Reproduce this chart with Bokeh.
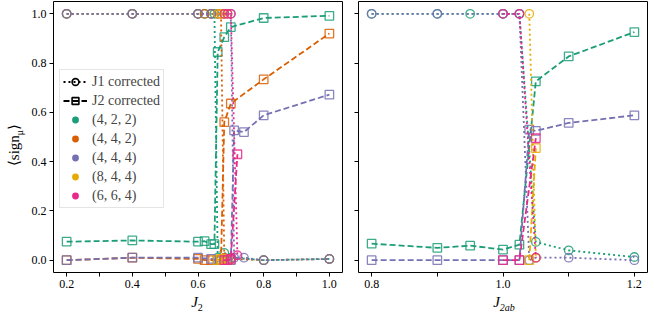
from bokeh.plotting import figure
from bokeh.layouts import row, column
from bokeh.models import Range1d, Legend, LegendItem, FixedTicker, Div
from bokeh.embed import file_html
from bokeh.resources import INLINE

GREEN = "#1b9e77"; ORANGE = "#d95f02"; PURPLE = "#7570b3"; YELLOW = "#e6ab02"; PINK = "#e7298a"
size_labels = ["(4, 2, 2)", "(4, 4, 2)", "(4, 4, 4)", "(8, 4, 4)", "(6, 6, 4)"]
size_colors = [GREEN, ORANGE, PURPLE, YELLOW, PINK]

# ---- left panel (J2) ----
l_x_422 = [0.2, 0.4, 0.6, 0.62, 0.64, 0.65, 0.66, 0.68, 0.7, 0.8, 1.0]
l_j1_422 = [1, 1, 1, 1, 1, 1, 0.01, 0.03, 0.01, 0.0, 0.005]
l_j2_422 = [0.075, 0.08, 0.075, 0.077, 0.065, 0.065, 0.845, 0.905, 0.946, 0.983, 0.992]

l_x_442 = [0.2, 0.4, 0.6, 0.62, 0.64, 0.66, 0.67, 0.68, 0.7, 0.8, 1.0]
l_j1_442 = [1, 1, 1, 1, 1, 1, 1, 0.01, 0.005, 0.0, 0.005]
l_j2_442 = [0.0, 0.01, 0.005, 0.0, 0.0, 0.0, 0.0, 0.56, 0.636, 0.734, 0.92]

l_x_444 = [0.2, 0.4, 0.6, 0.64, 0.66, 0.68, 0.7, 0.71, 0.74, 0.8, 1.0]
l_j1_444 = [1, 1, 1, 1, 1, 1, 1, 0.01, 0.01, 0.0, 0.005]
l_j2_444 = [0.0, 0.01, 0.01, 0.005, 0.0, 0.0, 0.0, 0.527, 0.52, 0.588, 0.672]

l_x_844 = [0.66, 0.67, 0.68, 0.69]
l_j1_844 = [1, 1, 1, 1]
l_j2_844 = [0.0, 0.005, 0.0, 0.0]

l_x_664 = [0.68, 0.69, 0.7, 0.72]
l_j1_664 = [1, 1, 1, 0.02]
l_j2_664 = [0.0, 0.0, 0.005, 0.43]

# ---- right panel (J2ab) ----
r_x_422 = [0.8, 0.9, 0.95, 1.0, 1.025, 1.05, 1.1, 1.2]
r_j1_422 = [1, 1, 1, 1, 1, 0.074, 0.04, 0.013]
r_j2_422 = [0.067, 0.05, 0.059, 0.043, 0.063, 0.726, 0.827, 0.926]

r_x_444 = [0.8, 0.9, 1.0, 1.025, 1.04, 1.05, 1.1, 1.2]
r_j1_444 = [1, 1, 1, 1, 0.0, 0.01, 0.01, 0.0]
r_j2_444 = [0.0, 0.0, 0.0, 0.0, 0.53, 0.525, 0.557, 0.588]

r_x_844 = [1.04, 1.05]
r_j1_844 = [1.0, 0.01]
r_j2_844 = [0.0, 0.455]

r_x_664 = [1.0, 1.025, 1.05]
r_j1_664 = [1, 1, 0.01]
r_j2_664 = [0.0, 0.0, 0.495]

left_x_major = [0.2, 0.4, 0.6, 0.8, 1.0]
left_x_minor = [0.3, 0.5, 0.7, 0.9]
right_x_major = [0.8, 1.0, 1.2]
right_x_minor = [0.9, 1.1]
y_ticks = [0.0, 0.2, 0.4, 0.6, 0.8, 1.0]

FONT = "Liberation Serif"


def style_axis(ax, major, minor):
    ax.ticker = FixedTicker(ticks=major, minor_ticks=minor)
    ax.major_label_overrides = {v: "%.1f" % v for v in major}
    ax.axis_line_color = None
    ax.major_tick_in = 0
    ax.major_tick_out = 4
    ax.minor_tick_in = 0
    ax.minor_tick_out = 4
    ax.major_tick_line_color = "black"
    ax.minor_tick_line_color = "black"
    ax.major_label_text_font = FONT
    ax.major_label_text_font_size = "12px"
    ax.major_label_text_color = "black"
    ax.major_label_standoff = 3


def style(p):
    p.outline_line_color = "black"
    p.outline_line_width = 1
    p.xgrid.visible = False
    p.ygrid.visible = False


def draw(p, x, j1, j2, color):
    p.line(x, j1, line_color=color, line_width=1.8, line_dash="2 3")
    p.scatter(x, j1, marker="circle", size=8.5, fill_color=None, line_color=color, line_width=1.3, line_alpha=0.85)
    p.line(x, j2, line_color=color, line_width=1.8, line_dash="6 3")
    p.scatter(x, j2, marker="square", size=8.5, fill_color=None, line_color=color, line_width=1.3, line_alpha=0.85)


FIG_H = 294
left = figure(width=322, height=FIG_H, x_range=Range1d(0.16, 1.04), y_range=Range1d(-0.05, 1.05),
              output_backend="svg", toolbar_location=None,
              min_border_left=25, min_border_right=8, min_border_top=1, min_border_bottom=22)
style(left)
style_axis(left.xaxis[0], left_x_major, left_x_minor)
style_axis(left.yaxis[0], y_ticks, [])

right = figure(width=298, height=FIG_H, x_range=Range1d(0.78, 1.22), y_range=Range1d(-0.05, 1.05),
               output_backend="svg", toolbar_location=None,
               min_border_left=8, min_border_right=1, min_border_top=1, min_border_bottom=22)
style(right)
style_axis(right.xaxis[0], right_x_major, right_x_minor)
style_axis(right.yaxis[0], [], y_ticks)
right.yaxis[0].major_label_standoff = 0

draw(left, l_x_422, l_j1_422, l_j2_422, GREEN)
draw(left, l_x_442, l_j1_442, l_j2_442, ORANGE)
draw(left, l_x_444, l_j1_444, l_j2_444, PURPLE)
draw(left, l_x_844, l_j1_844, l_j2_844, YELLOW)
draw(left, l_x_664, l_j1_664, l_j2_664, PINK)

draw(right, r_x_422, r_j1_422, r_j2_422, GREEN)
draw(right, r_x_444, r_j1_444, r_j2_444, PURPLE)
draw(right, r_x_844, r_j1_844, r_j2_844, YELLOW)
draw(right, r_x_664, r_j1_664, r_j2_664, PINK)

# legend proxies (points placed outside the visible range)
px = [-5, -4]
py = [-5, -4]
lj1 = left.line(px, py, line_color="black", line_width=1.8, line_dash="2 3")
sj1 = left.scatter(px[:1], py[:1], marker="circle", size=8.5, fill_color=None, line_color="black", line_width=1.6)
lj2 = left.line(px, py, line_color="black", line_width=1.8, line_dash="6 3")
sj2 = left.scatter(px[:1], py[:1], marker="square", size=8.5, fill_color=None, line_color="black", line_width=1.6)
items = [LegendItem(label="J1 corrected", renderers=[lj1, sj1]),
         LegendItem(label="J2 corrected", renderers=[lj2, sj2])]
for lab, col in zip(size_labels, size_colors):
    r = left.scatter(px[:1], py[:1], marker="circle", size=9, fill_color=col, line_color=None)
    items.append(LegendItem(label=lab, renderers=[r]))
legend = Legend(items=items, location=(6, 64))
legend.label_text_font = FONT
legend.label_text_font_size = "14px"
legend.label_height = 17
legend.glyph_height = 17
legend.glyph_width = 24
legend.label_standoff = 5
legend.spacing = 2
legend.padding = 3
legend.margin = 0
legend.border_line_color = "#cccccc"
legend.background_fill_alpha = 0.85
left.add_layout(legend)

# axis titles as HTML text (allows italic and subscripts)
TXT = "font-family:'Liberation Serif';color:black;white-space:nowrap;"
ylab = Div(width=18, height=FIG_H, text=(
    '<div style="width:280px;height:18px;line-height:18px;transform-origin:0 0;'
    'transform:translate(0px,280px) rotate(-90deg);text-align:center;font-size:15px;' + TXT + '">'
    '⟨sign<sub style="font-size:10px">μ</sub>⟩</div>'))
xlab = Div(width=638, height=13, text=(
    '<div style="position:relative;width:638px;height:13px;font-size:15px;' + TXT + '">'
    '<div style="position:absolute;left:142px;top:-15px;width:100px;line-height:16px;text-align:center;">'
    '<i>J</i><sub style="font-size:10px">2</sub></div>'
    '<div style="position:absolute;left:449px;top:-15px;width:100px;line-height:16px;text-align:center;">'
    '<i>J</i><sub style="font-size:10px"><i>2ab</i></sub></div>'
    '</div>'))

layout = column(row(ylab, left, right), xlab)
open("out.html", "w").write(file_html(layout, INLINE))
